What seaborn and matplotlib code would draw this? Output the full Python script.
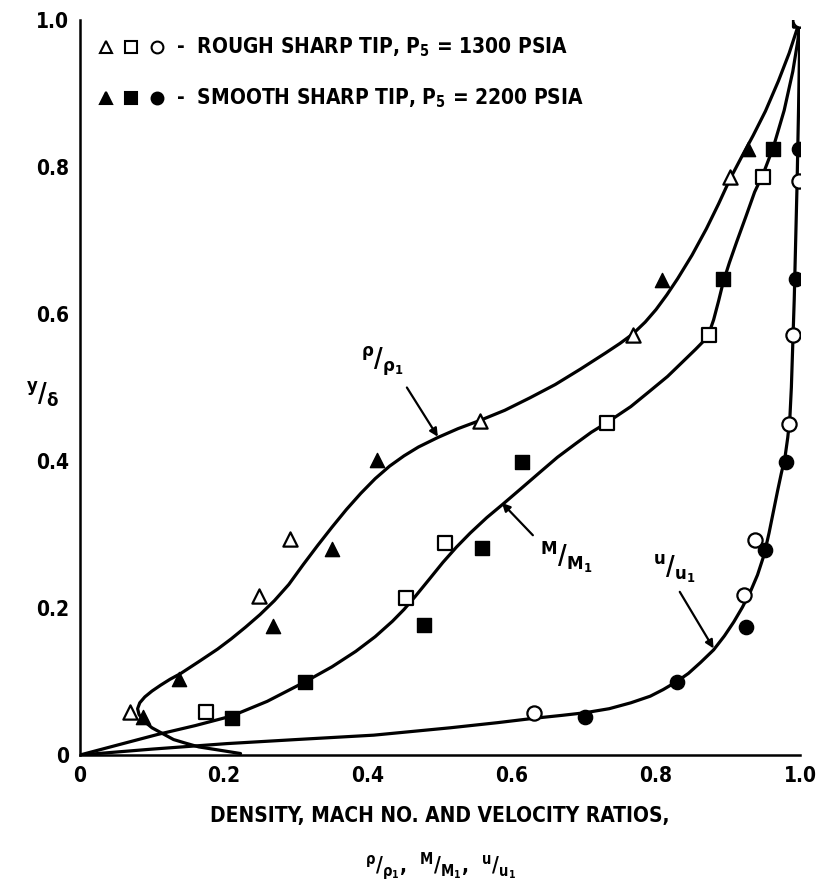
import matplotlib
matplotlib.use("Agg")
import matplotlib.pyplot as plt
import matplotlib.font_manager as fm
import seaborn as sns

sns.set_theme(style="white")

# pick a narrow lettering-like font if one is installed
_names = {f.name for f in fm.fontManager.ttflist}
_dv_cond = any(f.name == "DejaVu Sans" and str(f.stretch) in ("condensed", "semi-condensed", "500", "600")
               for f in fm.fontManager.ttflist)
if "Liberation Sans Narrow" in _names:
    FAM, STRETCH, WEIGHT, FS = "Liberation Sans Narrow", "normal", "bold", 16
elif _dv_cond:
    FAM, STRETCH, WEIGHT, FS = "DejaVu Sans", "condensed", "bold", 15
elif "Roboto Condensed" in _names:
    FAM, STRETCH, WEIGHT, FS = "Roboto Condensed", "normal", "bold", 16
else:
    FAM, STRETCH, WEIGHT, FS = "Liberation Sans", "normal", "bold", 13.5

plt.rcParams["font.family"] = [FAM, "DejaVu Sans"]
plt.rcParams["font.stretch"] = STRETCH
plt.rcParams["font.weight"] = WEIGHT
plt.rcParams["axes.labelweight"] = WEIGHT
plt.rcParams["mathtext.default"] = "regular"
for k in ["text.color", "axes.labelcolor", "xtick.color", "ytick.color", "axes.edgecolor"]:
    plt.rcParams[k] = "black"

# ---------------- data ----------------
# Rough sharp tip (open markers)
rough_y_rho = [0.058, 0.216, 0.294, 0.455, 0.571, 0.786, 1.0]
rough_rho = [0.070, 0.248, 0.292, 0.555, 0.768, 0.903, 1.0]
rough_y_m = [0.058, 0.213, 0.289, 0.452, 0.571, 0.787, 1.0]
rough_m = [0.175, 0.453, 0.507, 0.7315, 0.874, 0.949, 1.0]
rough_y_u = [0.057, 0.218, 0.2925, 0.451, 0.571, 0.781, 1.0]
rough_u = [0.631, 0.922, 0.9375, 0.985, 0.990, 0.998, 1.0]

# Smooth sharp tip (filled markers)
smooth_y_rho = [0.052, 0.103, 0.175, 0.280, 0.401, 0.646, 0.825]
smooth_rho = [0.087, 0.137, 0.268, 0.350, 0.412, 0.808, 0.928]
smooth_y_m = [0.050, 0.100, 0.177, 0.281, 0.399, 0.647, 0.825]
smooth_m = [0.211, 0.3125, 0.478, 0.559, 0.6134, 0.8935, 0.963]
smooth_y_u = [0.052, 0.100, 0.174, 0.279, 0.399, 0.648, 0.824]
smooth_u = [0.701, 0.8296, 0.9245, 0.951, 0.980, 0.995, 0.998]

# Faired curves
curve_rho_x = [0.223, 0.191, 0.165, 0.147, 0.130, 0.115, 0.100, 0.089, 0.082, 0.080,
               0.083, 0.090, 0.100, 0.112, 0.125, 0.140, 0.165, 0.191, 0.210, 0.230,
               0.250, 0.270, 0.290, 0.310, 0.330, 0.350, 0.370, 0.390, 0.410, 0.430,
               0.450, 0.470, 0.497, 0.525, 0.555, 0.590, 0.625, 0.660, 0.695, 0.730,
               0.750, 0.768, 0.785, 0.800, 0.815, 0.830, 0.850, 0.870, 0.887, 0.903,
               0.918, 0.935, 0.952, 0.970, 0.985, 1.0]
curve_rho_y = [0.002, 0.007, 0.011, 0.016, 0.021, 0.029, 0.037, 0.046, 0.055, 0.063,
               0.071, 0.079, 0.087, 0.095, 0.103, 0.111, 0.127, 0.144, 0.158, 0.174,
               0.191, 0.210, 0.232, 0.259, 0.285, 0.310, 0.334, 0.356, 0.376, 0.393,
               0.407, 0.419, 0.432, 0.444, 0.455, 0.469, 0.486, 0.504, 0.525, 0.547,
               0.560, 0.573, 0.589, 0.606, 0.626, 0.648, 0.680, 0.716, 0.750, 0.784,
               0.812, 0.843, 0.876, 0.917, 0.955, 1.0]
curve_m_x = [0.0, 0.050, 0.108, 0.160, 0.2105, 0.260, 0.3125, 0.350, 0.383, 0.410,
             0.434, 0.450, 0.465, 0.485, 0.504, 0.523, 0.542, 0.565, 0.587, 0.612,
             0.638, 0.663, 0.689, 0.710, 0.7315, 0.765, 0.790, 0.816, 0.835, 0.855,
             0.866, 0.874, 0.880, 0.887, 0.8935, 0.902, 0.912, 0.925, 0.937, 0.949,
             0.963, 0.978, 0.990, 0.997, 1.0]
curve_m_y = [0.0, 0.013, 0.028, 0.040, 0.053, 0.073, 0.0995, 0.120, 0.141, 0.161,
             0.182, 0.198, 0.215, 0.239, 0.262, 0.283, 0.302, 0.323, 0.341, 0.362,
             0.384, 0.405, 0.424, 0.439, 0.452, 0.474, 0.494, 0.515, 0.533, 0.552,
             0.563, 0.575, 0.592, 0.618, 0.644, 0.670, 0.698, 0.733, 0.766, 0.791,
             0.827, 0.877, 0.930, 0.972, 1.0]
curve_u_x = [0.0, 0.100, 0.204, 0.300, 0.408, 0.514, 0.580, 0.631, 0.670, 0.7015,
             0.735, 0.765, 0.792, 0.810, 0.829, 0.845, 0.862, 0.880, 0.895, 0.908,
             0.920, 0.931, 0.941, 0.950, 0.957, 0.963, 0.969, 0.974, 0.979, 0.983,
             0.986, 0.988, 0.990, 0.992, 0.994, 0.996, 0.998, 0.999, 1.0]
curve_u_y = [0.0, 0.008, 0.0155, 0.021, 0.027, 0.037, 0.044, 0.050, 0.054, 0.0575,
             0.063, 0.071, 0.080, 0.089, 0.100, 0.111, 0.126, 0.143, 0.162, 0.181,
             0.201, 0.222, 0.245, 0.272, 0.302, 0.331, 0.360, 0.383, 0.404, 0.432,
             0.460, 0.500, 0.560, 0.620, 0.700, 0.780, 0.880, 0.940, 1.0]

x_ticks = [0, 0.2, 0.4, 0.6, 0.8, 1.0]
x_tick_labels = ["0", "0.2", "0.4", "0.6", "0.8", "1.0"]
y_ticks = [0, 0.2, 0.4, 0.6, 0.8, 1.0]
y_tick_labels = ["0", "0.2", "0.4", "0.6", "0.8", "1.0"]

legend_labels = ["-  ROUGH SHARP TIP, $P_5$ = 1300 PSIA",
                 "-  SMOOTH SHARP TIP, $P_5$ = 2200 PSIA"]
legend_markers = ["^", "s", "o"]

# ---------------- figure ----------------
fig = plt.figure(figsize=(8.34, 8.84), dpi=100)
ax = fig.add_axes([80 / 834, 1 - 755 / 884, 720 / 834, 735 / 884])
ax.set_facecolor("white")
fig.patch.set_facecolor("white")

LW = 2.3
for cx, cy in [(curve_rho_x, curve_rho_y), (curve_m_x, curve_m_y), (curve_u_x, curve_u_y)]:
    sns.lineplot(x=cx, y=cy, sort=False, estimator=None, color="black",
                 linewidth=LW, ax=ax, zorder=2)
for ln in ax.get_lines():
    ln.set_solid_joinstyle("round")
    ln.set_solid_capstyle("round")

S = 105
open_sets = [(rough_rho, rough_y_rho, "^"), (rough_m, rough_y_m, "s"), (rough_u, rough_y_u, "o")]
fill_sets = [(smooth_rho, smooth_y_rho, "^"), (smooth_m, smooth_y_m, "s"), (smooth_u, smooth_y_u, "o")]
for xs, ys, mk in open_sets:
    sns.scatterplot(x=xs, y=ys, marker=mk, s=S, facecolor="white", edgecolor="black",
                    linewidth=1.6, ax=ax, zorder=3)
for xs, ys, mk in fill_sets:
    sns.scatterplot(x=xs, y=ys, marker=mk, s=S, facecolor="black", edgecolor="black",
                    linewidth=1.0, ax=ax, zorder=3)

ax.set_xlim(0, 1.0)
ax.set_ylim(0, 1.0)
ax.set_xticks(x_ticks)
ax.set_xticklabels(x_tick_labels)
ax.set_yticks(y_ticks)
ax.set_yticklabels(y_tick_labels)
ax.tick_params(axis="both", direction="in", length=7, width=1.6, labelsize=FS,
               colors="black", pad=8)
for side in ["top", "right"]:
    ax.spines[side].set_visible(False)
for side in ["left", "bottom"]:
    ax.spines[side].set_color("black")
    ax.spines[side].set_linewidth(1.8)
ax.margins(0)

# axis labels
ax.set_xlabel("DENSITY, MACH NO. AND VELOCITY RATIOS,\n"
              "$^{ρ}/_{ρ_1}$,  $^{M}/_{M_1}$,  $^{u}/_{u_1}$",
              fontsize=FS, labelpad=14, linespacing=2.1)
fig.text(26 / 834, 1 - 394 / 884, "$^{y}/_{δ}$", fontsize=FS + 4, ha="left", va="center")

# hand-made legend block (glyph rows) in axes coordinates
rows = [(0.963, "white", legend_labels[0]), (0.894, "black", legend_labels[1])]
for ry, fc, lab in rows:
    for mx, mk in zip([0.036, 0.071, 0.107], legend_markers):
        ax.plot([mx], [ry], marker=mk, markersize=8.5, markerfacecolor=fc,
                markeredgecolor="black", markeredgewidth=1.5, linestyle="none",
                transform=ax.transAxes, clip_on=False, zorder=4)
    ax.text(0.133, ry, lab, transform=ax.transAxes, fontsize=FS, ha="left", va="center")

# curve labels with arrows
arrow = dict(arrowstyle="-|>", color="black", lw=1.6, mutation_scale=12,
             shrinkA=0, shrinkB=0)
ax.annotate("", xy=(0.497, 0.433), xytext=(0.454, 0.500), arrowprops=arrow)
ax.text(0.42, 0.535, "$^{ρ}/_{ρ_1}$", fontsize=FS + 4, ha="center", va="center")
ax.annotate("", xy=(0.586, 0.343), xytext=(0.629, 0.299), arrowprops=arrow)
ax.text(0.676, 0.27, "$^{M}/_{M_1}$", fontsize=FS + 4, ha="center", va="center")
ax.annotate("", xy=(0.880, 0.145), xytext=(0.833, 0.222), arrowprops=arrow)
ax.text(0.826, 0.253, "$^{u}/_{u_1}$", fontsize=FS + 4, ha="center", va="center")

fig.savefig("out.png", dpi=100, facecolor="white")
